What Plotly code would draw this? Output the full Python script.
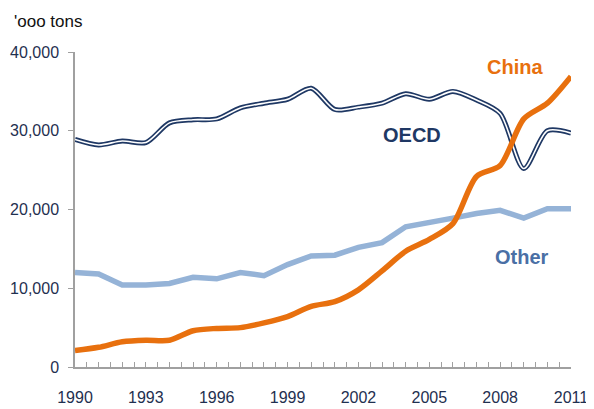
import plotly.graph_objects as go

# Annual consumption, '000 tons
years = list(range(1990, 2012))
oecd = [28900, 28200, 28700, 28500, 31000, 31400, 31500, 32900, 33500, 34000, 35400,
        32700, 33000, 33500, 34700, 34000, 35000, 33900, 32200, 25200, 30000, 29700]
china = [2100, 2500, 3200, 3400, 3400, 4600, 4900, 5000, 5600, 6400, 7700,
         8300, 9800, 12200, 14700, 16200, 18200, 24200, 25600, 31500, 33500, 36900]
other = [12000, 11800, 10400, 10400, 10600, 11400, 11200, 12000, 11600, 13000, 14100,
         14200, 15200, 15800, 17800, 18300, 18900, 19500, 19900, 18900, 20100, 20100]
x_ticks = [1990, 1993, 1996, 1999, 2002, 2005, 2008, 2011]

NAVY = "#1F3864"
ORANGE = "#E8700E"
LIGHT_BLUE = "#95B3D7"
TICK_COLOR = "#1F3050"
FONT = "Liberation Sans, Arial, sans-serif"

fig = go.Figure()

fig.add_trace(go.Scatter(x=years, y=other, mode="lines",
                         line=dict(color=LIGHT_BLUE, width=5.5)))
# OECD drawn as a double line: wide navy with a thin white core
fig.add_trace(go.Scatter(x=years, y=oecd, mode="lines",
                         line=dict(color=NAVY, width=5, shape="spline", smoothing=0.8)))
fig.add_trace(go.Scatter(x=years, y=oecd, mode="lines",
                         line=dict(color="white", width=1.6, shape="spline", smoothing=0.8)))
fig.add_trace(go.Scatter(x=years, y=china, mode="lines",
                         line=dict(color=ORANGE, width=5.5, shape="spline", smoothing=0.8)))

labels = [
    ("China", 0.887, 0.952, ORANGE),
    ("OECD", 0.679, 0.738, NAVY),
    ("Other", 0.901, 0.349, "#4A6FA5"),
]
for text, lx, ly, col in labels:
    fig.add_annotation(text=f"<b>{text}</b>", x=lx, y=ly, xref="paper", yref="paper",
                       showarrow=False, xanchor="center", yanchor="middle",
                       font=dict(family=FONT, size=20, color=col))

# unit label above the y axis
fig.add_annotation(text="'ooo tons", x=(12 - 75) / 496, y=(367 - 10) / 315,
                   xref="paper", yref="paper", showarrow=False,
                   xanchor="left", yanchor="top",
                   font=dict(family=FONT, size=17, color="#111111"))

# the page body adds an 8px offset, so margins are trimmed to compensate
fig.update_layout(
    width=594, height=409,
    margin=dict(l=67, r=31, t=44, b=50),
    paper_bgcolor="white", plot_bgcolor="white",
    showlegend=False,
    font=dict(family=FONT, size=16, color=TICK_COLOR),
)
fig.update_xaxes(
    range=[1990, 2011], tickvals=x_ticks, ticktext=[str(v) for v in x_ticks],
    automargin=False,
    showgrid=False, zeroline=False,
    showline=True, linecolor="#A0A0A0", linewidth=1.5,
    ticks="inside", ticklen=5, tickcolor="#A0A0A0", tickwidth=1,
    minor=dict(dtick=0.5, tick0=1990, ticks="inside", ticklen=5,
               tickcolor="#A0A0A0", tickwidth=1, showgrid=False),
    ticklabelstandoff=15,
    tickfont=dict(size=16, color=TICK_COLOR),
)
fig.update_yaxes(
    range=[0, 40000], dtick=10000, tickformat=",",
    automargin=False,
    showgrid=False, zeroline=False,
    showline=True, linecolor="#A0A0A0", linewidth=1.5,
    ticks="outside", ticklen=5, tickcolor="#A0A0A0", tickwidth=1,
    ticklabelstandoff=6,
    tickfont=dict(size=16, color=TICK_COLOR),
)

fig.write_html("out.html")
